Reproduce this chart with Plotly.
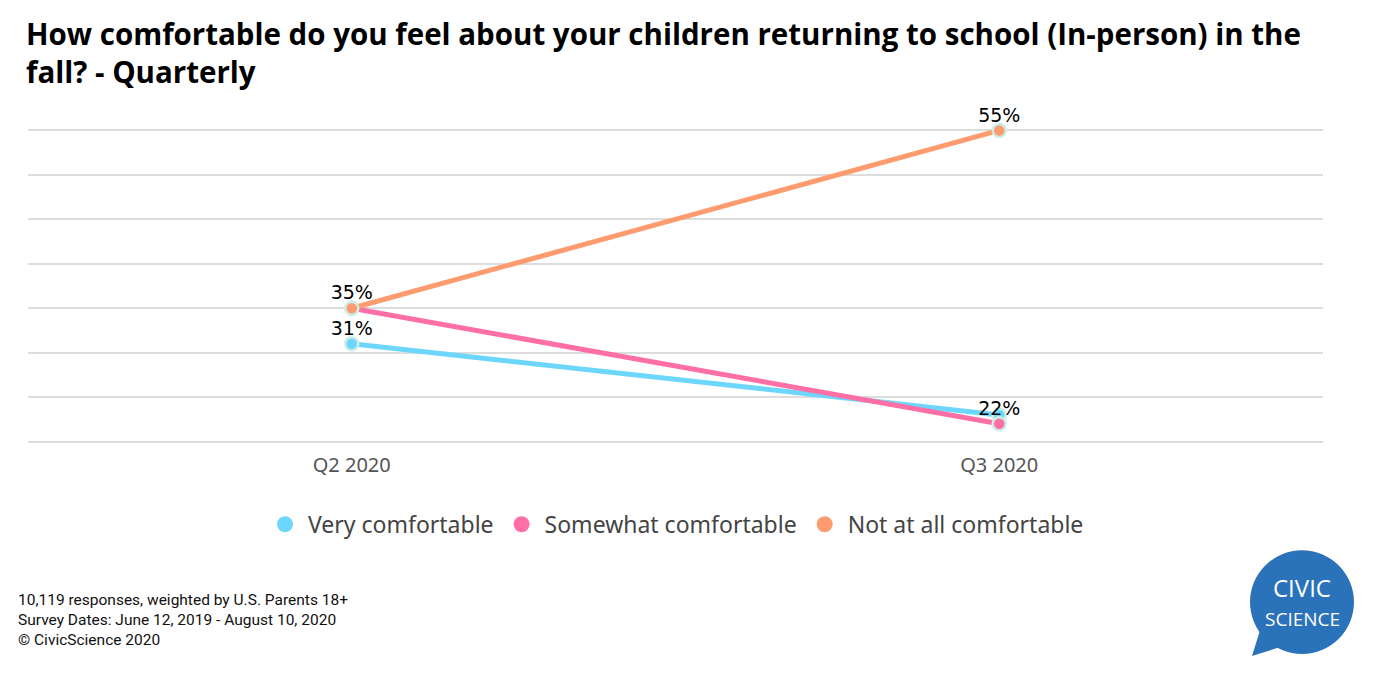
import plotly.graph_objects as go

quarters = ["Q2 2020", "Q3 2020"]
series_names = ["Very comfortable", "Somewhat comfortable", "Not at all comfortable"]
very = [31, 23]
somewhat = [35, 22]
not_at_all = [35, 55]
show_label_very = [True, False]
show_label_somewhat = [False, True]
show_label_not = [True, True]
colors = ["#6dd6fc", "#fe6fa6", "#fe9b6f"]
y_ticks = [20, 25, 30, 35, 40, 45, 50, 55]

OFF = 8  # page body margin
W, H = 1377, 675
L, R, T, B = 28, 1323, 130, 442
PAD = 0.5  # axis padding in value units
PPU = (B - T) / (y_ticks[-1] - y_ticks[0])

fig = go.Figure()

series = list(zip(series_names, [very, somewhat, not_at_all],
                  [show_label_very, show_label_somewhat, show_label_not], colors))

for name, vals, show, col in series:
    fig.add_trace(go.Scatter(
        x=quarters, y=vals, mode="lines+markers", name=name,
        line=dict(color=col, width=5),
        marker=dict(size=13, color=col, line=dict(color="#cdeee8", width=2.5)),
        showlegend=False, cliponaxis=False,
    ))
for name, vals, show, col in series:
    fig.add_trace(go.Scatter(
        x=quarters, y=vals, mode="markers+text", name=name,
        text=[f"{v}%" if s else "" for v, s in zip(vals, show)],
        textposition="top center",
        marker=dict(size=5, opacity=0),
        textfont=dict(family="DejaVu Sans", size=19, color="#000000"),
        showlegend=False, cliponaxis=False, hoverinfo="skip",
    ))
for name, vals, show, col in series:
    fig.add_trace(go.Scatter(
        x=[None], y=[None], mode="markers", name=name,
        marker=dict(size=22, color=col), showlegend=True,
    ))

pt = T - PAD * PPU
pb = B + PAD * PPU

def px(x):
    return (x - L) / (R - L)

def py(y):
    return (pb - y) / (pb - pt)

# title
fig.add_annotation(x=px(24), y=py(10), xref="paper", yref="paper",
                   xanchor="left", yanchor="top", align="left", showarrow=False,
                   text="<b>How comfortable do you feel about your children returning to school (In-person) in the<br>fall? - Quarterly</b>",
                   font=dict(family="Open Sans", size=29.5, color="#000000"))

# logo
fig.add_shape(type="circle", xref="paper", yref="paper",
              x0=px(1250), x1=px(1354), y0=py(655), y1=py(551),
              fillcolor="#2a72ba", line=dict(width=0), layer="above")
fig.add_shape(type="path", xref="paper", yref="paper",
              path=f"M {px(1252)} {py(657)} L {px(1262)} {py(625)} L {px(1290)} {py(645)} Z",
              fillcolor="#2a72ba", line=dict(width=0), layer="above")
fig.add_annotation(x=px(1302), y=py(606), xref="paper", yref="paper",
                   xanchor="center", yanchor="bottom",
                   text="CIVIC", showarrow=False, borderpad=0,
                   font=dict(family="Open Sans", size=24, color="white"))
fig.add_annotation(x=px(1302), y=py(606), xref="paper", yref="paper",
                   xanchor="center", yanchor="top",
                   text="SCIENCE", showarrow=False, borderpad=0,
                   font=dict(family="Open Sans", size=19, color="white"))

fig.add_annotation(x=px(16), y=py(590), xref="paper", yref="paper",
                   xanchor="left", yanchor="top", align="left", showarrow=False,
                   text="10,119 responses, weighted by U.S. Parents 18+<br>Survey Dates: June 12, 2019 - August 10, 2020<br>© CivicScience 2020",
                   font=dict(family="Roboto", size=15.5, color="#111111"))

fig.update_layout(
    width=W - OFF, height=H - OFF,
    margin=dict(l=L - OFF, r=W - R, t=pt - OFF, b=H - pb, pad=0),
    paper_bgcolor="white", plot_bgcolor="white",
    xaxis=dict(range=[-0.5, 1.5], showgrid=False, zeroline=False, showline=False,
               ticks="outside", ticklen=1, tickcolor="rgba(0,0,0,0)",
               tickfont=dict(family="Noto Sans", size=20, color="#555555")),
    yaxis=dict(range=[y_ticks[0] - PAD, y_ticks[-1] + PAD], tickvals=y_ticks, showticklabels=False,
               showgrid=True, gridcolor="#dddddd", gridwidth=1.5, zeroline=False, showline=False),
    legend=dict(orientation="h", x=0.5, xanchor="center", y=py(525), yanchor="middle",
                font=dict(family="Noto Sans", size=23, color="#444444"),
                itemwidth=36, tracegroupgap=0),
)

fig.write_html("out.html")
